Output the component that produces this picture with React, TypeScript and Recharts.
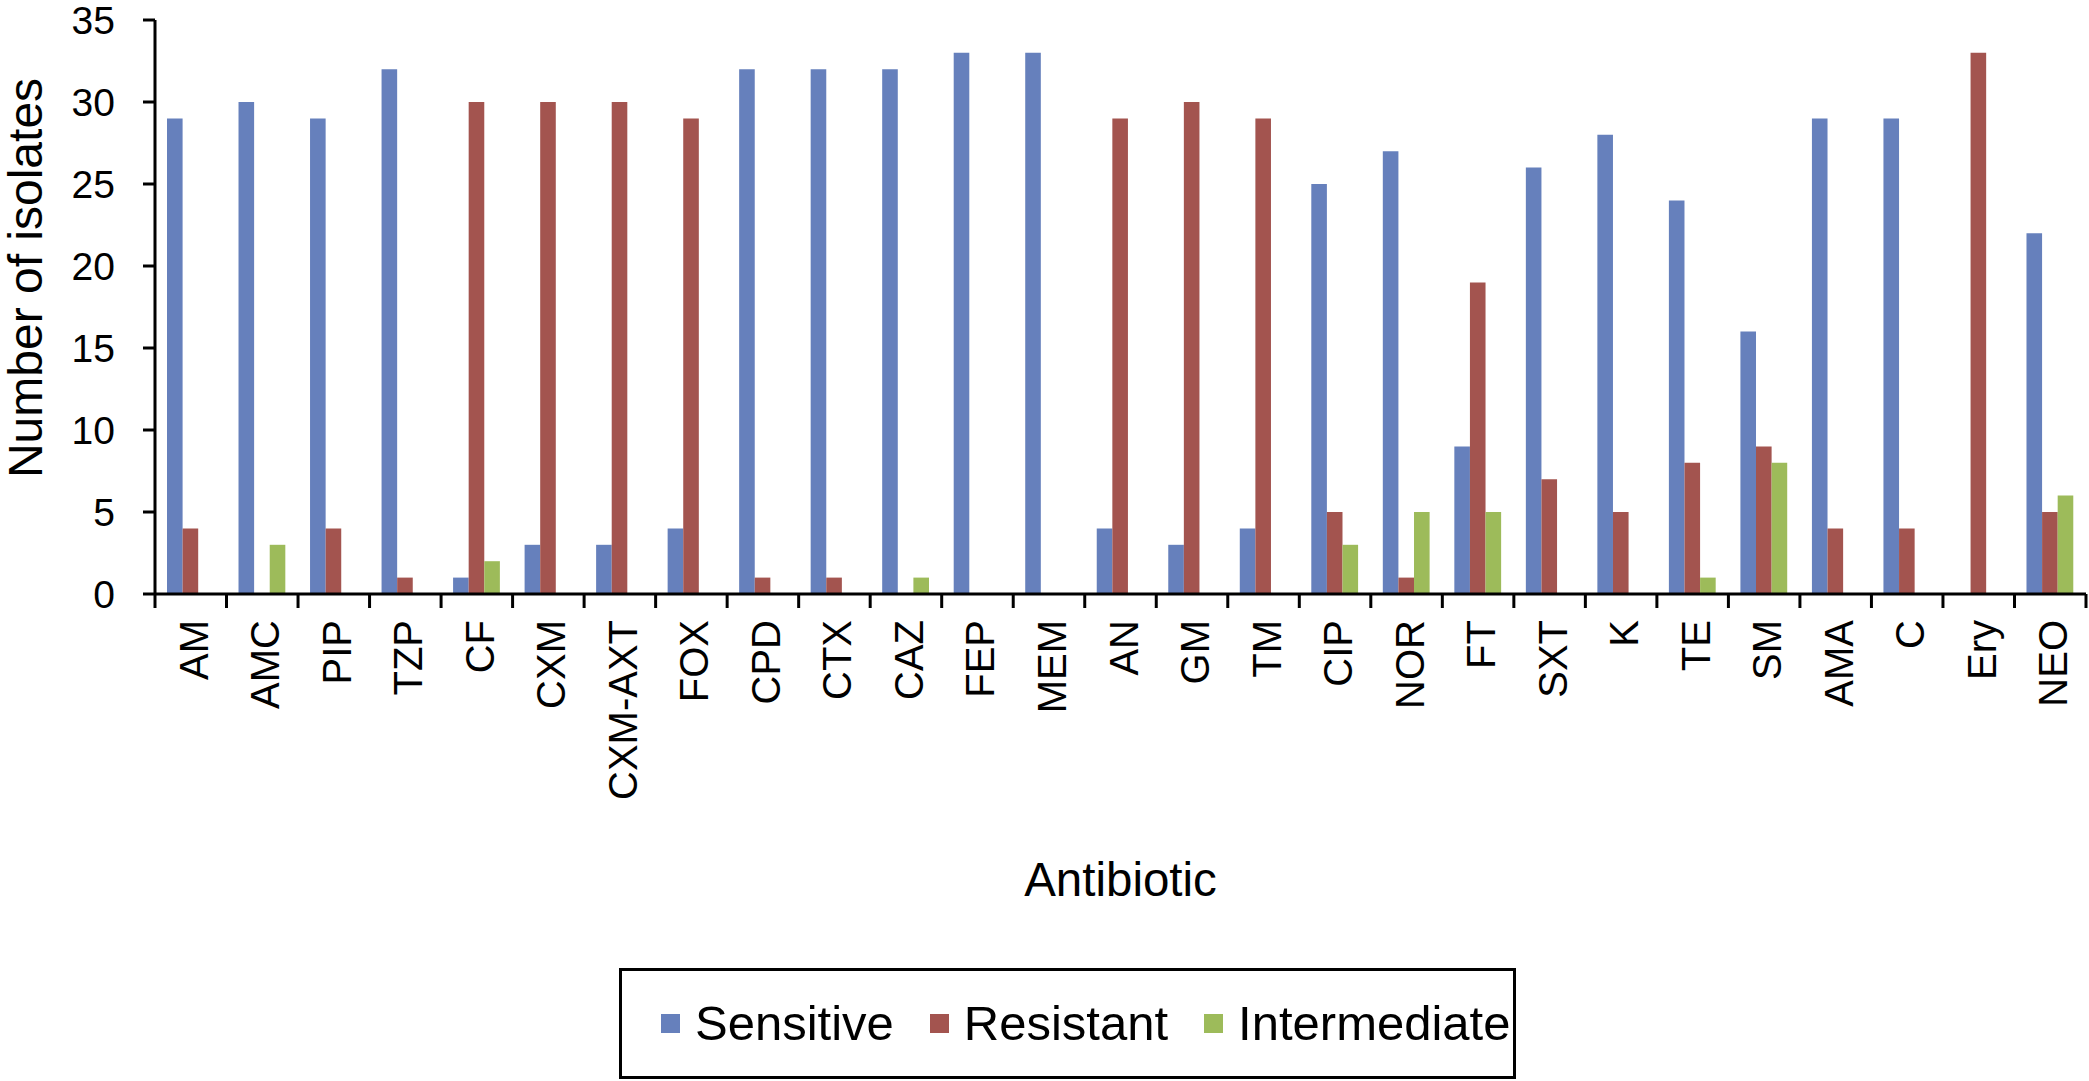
import React from 'react';
import { BarChart, Bar, XAxis, YAxis, Legend } from 'recharts';

const categories = ['AM','AMC','PIP','TZP','CF','CXM','CXM-AXT','FOX','CPD','CTX','CAZ','FEP','MEM','AN','GM','TM','CIP','NOR','FT','SXT','K','TE','SM','AMA','C','Ery','NEO'];
const sensitive = [29,30,29,32,1,3,3,4,32,32,32,33,33,4,3,4,25,27,9,26,28,24,16,29,29,0,22];
const resistant = [4,0,4,1,30,30,30,29,1,1,0,0,0,29,30,29,5,1,19,7,5,8,9,4,4,33,5];
const intermediate = [0,3,0,0,2,0,0,0,0,0,1,0,0,0,0,0,3,5,5,0,0,1,8,0,0,0,6];
const yTicks = [0,5,10,15,20,25,30,35];

const seriesInfo = [
  { key: 'Sensitive', color: '#6680BC' },
  { key: 'Resistant', color: '#A3544F' },
  { key: 'Intermediate', color: '#9DBB5A' },
];

const data = categories.map((name, i) => ({
  name,
  Sensitive: sensitive[i],
  Resistant: resistant[i],
  Intermediate: intermediate[i],
}));

const FONT = '"Liberation Sans", Arial, Helvetica, sans-serif';

const XTick = (props: any) => {
  const { x, y, payload, index } = props;
  const half = payload && typeof payload.offset === 'number' && payload.offset > 0 ? payload.offset : 35.75;
  const last = index === categories.length - 1;
  return (
    <g>
      <line x1={x - half} x2={x - half} y1={y} y2={y + 14} stroke="#000" strokeWidth={3} />
      {last && <line x1={x + half} x2={x + half} y1={y} y2={y + 14} stroke="#000" strokeWidth={3} />}
      <text
        transform={`translate(${x + 3},${y + 26}) rotate(-90)`}
        textAnchor="end"
        dominantBaseline="central"
        fontSize={40}
        fontFamily={FONT}
        fill="#000"
      >
        {payload.value}
      </text>
    </g>
  );
};

const LegendContent = () => (
  <div
    style={{
      boxSizing: 'border-box',
      width: 897,
      height: 111,
      border: '3px solid #000',
      display: 'flex',
      alignItems: 'center',
      paddingLeft: 39,
      fontFamily: FONT,
      fontSize: 49,
      color: '#000',
      background: '#fff',
    }}
  >
    {seriesInfo.map((s, i) => (
      <div key={s.key} style={{ display: 'flex', alignItems: 'center', marginRight: i < 2 ? 36 : 0 }}>
        <div style={{ width: 19, height: 19, background: s.color, marginRight: 15 }} />
        <span style={{ lineHeight: 1 }}>{s.key}</span>
      </div>
    ))}
  </div>
);

export default function App() {
  return (
    <div style={{ position: 'absolute', left: 0, top: 0, width: 2089, height: 1081, background: '#fff' }}>
      <BarChart
        width={2089}
        height={1081}
        data={data}
        margin={{ top: 20, right: 3, left: 0, bottom: 0 }}
        barGap={0}
        barSize={15.6}
      >
        <XAxis
          dataKey="name"
          interval={0}
          height={487}
          tickSize={0}
          tickMargin={0}
          tickLine={false}
          axisLine={{ stroke: '#000', strokeWidth: 3 }}
          tick={<XTick />}
          label={{
            value: 'Antibiotic',
            position: 'insideBottom',
            offset: 185,
            fontSize: 47.5,
            fontFamily: FONT,
            fill: '#000',
          }}
        />
        <YAxis
          width={155}
          domain={[0, 35]}
          ticks={yTicks}
          interval={0}
          tickSize={12}
          tickMargin={28}
          axisLine={{ stroke: '#000', strokeWidth: 3 }}
          tickLine={{ stroke: '#000', strokeWidth: 3 }}
          tick={{ fontSize: 39, fontFamily: FONT, fill: '#000' }}
          label={{
            content: () => (
              <text
                x={42}
                y={278}
                transform="rotate(-90, 42, 278)"
                textAnchor="middle"
                fontSize={48}
                fontFamily={FONT}
                fill="#000"
              >
                Number of isolates
              </text>
            ),
          }}
        />
        <Legend
          layout="horizontal"
          align="center"
          verticalAlign="middle"
          content={<LegendContent />}
          wrapperStyle={{ left: 619, top: 968, width: 897, height: 111 }}
        />
        {seriesInfo.map((s) => (
          <Bar key={s.key} dataKey={s.key} fill={s.color} isAnimationActive={false} />
        ))}
      </BarChart>
    </div>
  );
}
